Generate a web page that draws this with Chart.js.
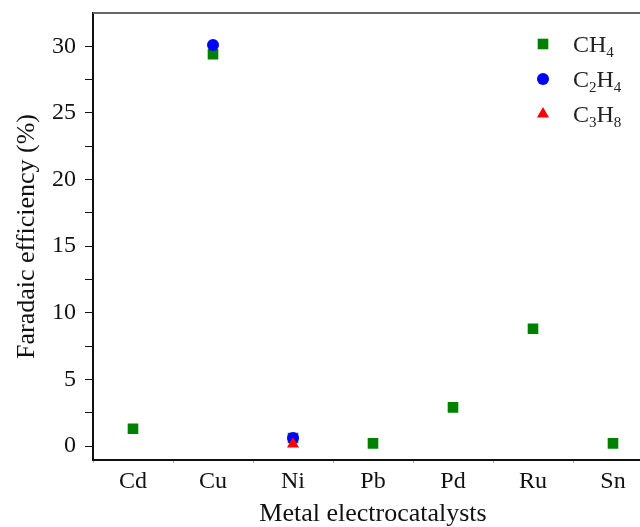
<!DOCTYPE html>
<html lang="en">
<head>
    <meta charset="UTF-8">
    <title>Faradaic efficiency</title>
    <script src="https://cdn.jsdelivr.net/npm/chart.js"></script>
    <style>
        html, body { margin: 0; padding: 0; overflow: hidden; background: #fff; }
        #wrap { width: 680px; height: 527px; }
    </style>
</head>
<body>
    <div id="wrap"><canvas id="chart" width="680" height="527"></canvas></div>

    <script>
        // data
        const metals = ["Cd", "Cu", "Ni", "Pb", "Pd", "Ru", "Sn"];
        const ch4 = [1.3, 29.4, 0.6, 0.2, 2.9, 8.8, 0.2];
        const c2h4 = [null, 30.1, 0.6, null, null, null, null];
        const c3h8 = [null, null, 0.15, null, null, null, null];
        const yTicks = [0, 2.5, 5, 7.5, 10, 12.5, 15, 17.5, 20, 22.5, 25, 27.5, 30];

        const serif = "'Liberation Serif', 'Times New Roman', serif";

        // legend entries, each text split into normal and subscript parts
        const legendItems = [
            { parts: [["CH", false], ["4", true]], style: "rect", color: "#008000", r: 7.5 },
            { parts: [["C", false], ["2", true], ["H", false], ["4", true]], style: "circle", color: "#0000ff", r: 6 },
            { parts: [["C", false], ["3", true], ["H", false], ["8", true]], style: "triangle", color: "#ff0000", r: 7 }
        ];

        // grey top frame line and the legend (needs subscripts, so drawn by hand)
        const framePlugin = {
            id: "frame",
            afterDraw(chart) {
                const ctx = chart.ctx;
                const a = chart.chartArea;
                ctx.save();
                ctx.strokeStyle = "#666";
                ctx.lineWidth = 2;
                ctx.beginPath();
                ctx.moveTo(a.left, a.top);
                ctx.lineTo(a.right, a.top);
                ctx.stroke();

                let y = 44;
                legendItems.forEach(item => {
                    ctx.fillStyle = item.color;
                    ctx.strokeStyle = item.color;
                    ctx.lineWidth = 0.01;
                    Chart.helpers.drawPoint(ctx, { pointStyle: item.style, radius: item.r, borderWidth: 0 }, 543, y);
                    let x = 573;
                    ctx.fillStyle = "#222";
                    ctx.textBaseline = "alphabetic";
                    item.parts.forEach(p => {
                        ctx.font = (p[1] ? "15px " : "24px ") + serif;
                        ctx.fillText(p[0], x, p[1] ? y + 13 : y + 8);
                        x += ctx.measureText(p[0]).width;
                    });
                    y += 35;
                });
                ctx.restore();
            }
        };

        const ctx = document.getElementById("chart").getContext("2d");
        new Chart(ctx, {
            type: "scatter",
            data: {
                labels: metals,
                datasets: [
                    { label: "CH4", data: ch4, pointStyle: "rect", pointRadius: 7.5, backgroundColor: "#008000", borderColor: "#008000", borderWidth: 0, order: 3 },
                    { label: "C2H4", data: c2h4, pointStyle: "circle", pointRadius: 6, backgroundColor: "#0000ff", borderColor: "#0000ff", borderWidth: 0, order: 2 },
                    { label: "C3H8", data: c3h8, pointStyle: "triangle", pointRadius: 7, backgroundColor: "#ff0000", borderColor: "#ff0000", borderWidth: 0, order: 1 }
                ]
            },
            options: {
                responsive: false,
                animation: false,
                layout: { padding: { top: 13, right: 27, left: 0, bottom: 0 } },
                plugins: {
                    legend: { display: false },
                    tooltip: { enabled: false }
                },
                scales: {
                    x: {
                        type: "category",
                        offset: true,
                        border: { color: "#111", width: 2 },
                        grid: { display: true, offset: true, drawOnChartArea: false, tickLength: 3, color: "#bbb" },
                        ticks: { color: "#111", font: { family: serif, size: 24 }, padding: 4 },
                        title: { display: true, text: "Metal electrocatalysts", color: "#111", font: { family: serif, size: 26, lineHeight: 1 }, padding: { top: 0, bottom: 0 } },
                        afterFit(scale) { scale.height = 67; scale.paddingLeft = 0; scale.paddingRight = 0; }
                    },
                    y: {
                        min: -1.05,
                        max: 32.5,
                        border: { color: "#111", width: 2 },
                        grid: { display: true, drawOnChartArea: false, tickLength: 8, color: "#111" },
                        ticks: {
                            color: "#111",
                            font: { family: serif, size: 24 },
                            padding: 9,
                            callback: v => (v % 5 === 0 ? v : "")
                        },
                        afterBuildTicks(scale) { scale.ticks = yTicks.map(v => ({ value: v })); },
                        title: { display: true, text: "Faradaic efficiency (%)", color: "#111", font: { family: serif, size: 26 }, padding: { top: 12, bottom: 0 } },
                        afterFit(scale) { scale.width = 93; scale.paddingTop = 0; scale.paddingBottom = 0; }
                    }
                }
            },
            plugins: [framePlugin]
        });
    </script>
</body>
</html>
